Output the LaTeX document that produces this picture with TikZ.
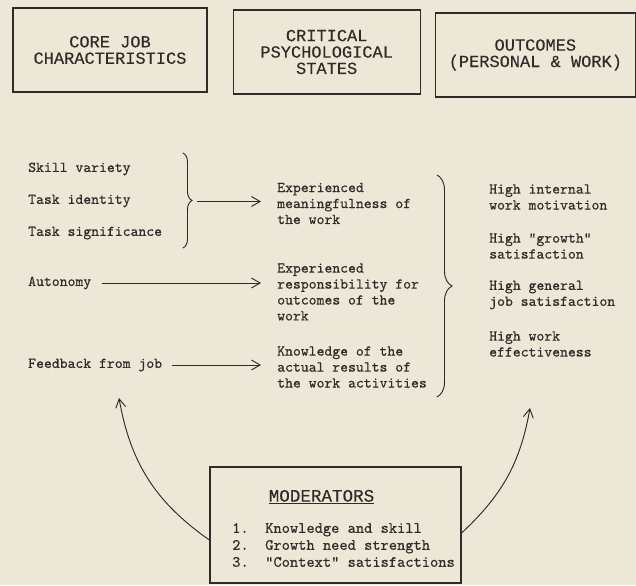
\documentclass[tikz,border=0pt]{standalone}
\usepackage{fontspec}
\usepackage{xcolor}
\setmonofont[FakeBold=0.5]{lmmono10-regular.otf}
\newfontfamily\headfont[FakeBold=0.2]{Liberation Mono}
\usetikzlibrary{positioning,calc,arrows.meta,decorations.pathreplacing}
\definecolor{paper}{HTML}{EDE7D7}
\definecolor{ink}{HTML}{2E2B28}

\begin{document}
\begin{tikzpicture}[
  font=\ttfamily\fontsize{12.8}{13.6}\selectfont, text=ink,
  head/.style={draw=ink, line width=1pt, minimum height=2.52cm, align=center,
      font=\headfont\fontsize{14.5}{14}\selectfont},
  item/.style={anchor=west, inner sep=0pt},
  state/.style={anchor=west, inner sep=0pt, align=left},
  feed/.style={-{Straight Barb[length=2.6mm,width=3mm]}, line width=0.8pt, ink},
  curly/.style={decorate, decoration={brace, amplitude=#1}, line width=0.8pt, ink},
]
\fill[paper] (0,0) rectangle (19.08,-17.55);

% column heads
\node[head, minimum width=5.82cm] (core) at (3.30,-1.50) {CORE JOB\\CHARACTERISTICS};
\node[head, minimum width=5.61cm, right=0.75cm of core, yshift=-1.7pt] (crit)
   {CRITICAL\\PSYCHOLOGICAL\\STATES};
\node[head, minimum width=6.0cm, right=0.42cm of crit, yshift=-2.5pt] (outc)
   {OUTCOMES\\(PERSONAL \& WORK)};

% core job characteristics
\node[item] (skill) at (0.84,-5.07) {Skill variety};
\node[item, below=0.96cm of skill.west, anchor=west] (ident) {Task identity};
\node[item, below=0.96cm of ident.west, anchor=west] (signif) {Task significance};
\node[item, below=1.50cm of signif.west, anchor=west] (auton) {Autonomy};
\node[item, below=2.46cm of auton.west, anchor=west] (feedb) {Feedback from job};

% psychological states
\node[state] (mean) at (8.31,-6.105) {Experienced\\meaningfulness of\\the work};
\node[state, below=2.655cm of mean.west, anchor=west] (resp)
   {Experienced\\responsibility for\\outcomes of the\\work};
\node[state, below=2.25cm of resp.west, anchor=west] (know)
   {Knowledge of the\\actual results of\\the work activities};

% outcomes
\node[state] (motiv) at (14.67,-5.91) {High internal\\work motivation};
\node[state, below=1.47cm of motiv.west, anchor=west] (growth) {High "growth"\\satisfaction};
\node[state, below=1.47cm of growth.west, anchor=west] (gensat) {High general\\job satisfaction};
\node[state, below=1.47cm of gensat.west, anchor=west] (effect) {High work\\effectiveness};

% braces
\coordinate (lbtop) at (5.49,-4.59);
\coordinate (lbbot) at (5.49,-7.44);
\coordinate (lbtip) at ($(lbtop)!0.5!(lbbot)+(0.27,-0.03)$);
\draw[curly=0.27cm] (lbtop) -- (lbbot);
\coordinate (rbtop) at (13.11,-5.25);
\coordinate (rbbot) at (13.11,-11.91);
\draw[curly=0.45cm] (rbtop) -- (rbbot);

\draw[feed, shorten <=0.15cm, shorten >=0.48cm] (lbtip) -- (lbtip -| mean.west);
\draw[feed, shorten <=0.32cm, shorten >=0.48cm] (auton.east) -- (auton.east -| resp.west);
\draw[feed, shorten <=0.28cm, shorten >=0.48cm] (feedb.east) -- (feedb.east -| know.west);

% moderators
\node[draw=ink, line width=1pt, minimum width=7.53cm, minimum height=3.48cm] (moder)
   at (10.065,-15.75) {};
\node[font=\headfont\fontsize{15}{15}\selectfont] (modtitle) at (9.645,-14.91) {\underline{MODERATORS}};
\node[state, font=\ttfamily\fontsize{13.4}{14.5}\selectfont] (modlist) at (6.96,-16.35)
   {\makebox[0.99cm][l]{1.}Knowledge and skill\\
    \makebox[0.99cm][l]{2.}Growth need strength\\
    \makebox[0.99cm][l]{3.}"Context" satisfactions};

\coordinate (ltip) at (3.57,-11.94);
\coordinate (rtip) at (15.9,-12.24);
\draw[feed] ($(moder.west)+(0,-0.45)$) to[out=145,in=-80] (ltip);
\draw[feed] ($(moder.east)+(0,-0.24)$) to[out=43,in=-100] (rtip);
\end{tikzpicture}
\end{document}
